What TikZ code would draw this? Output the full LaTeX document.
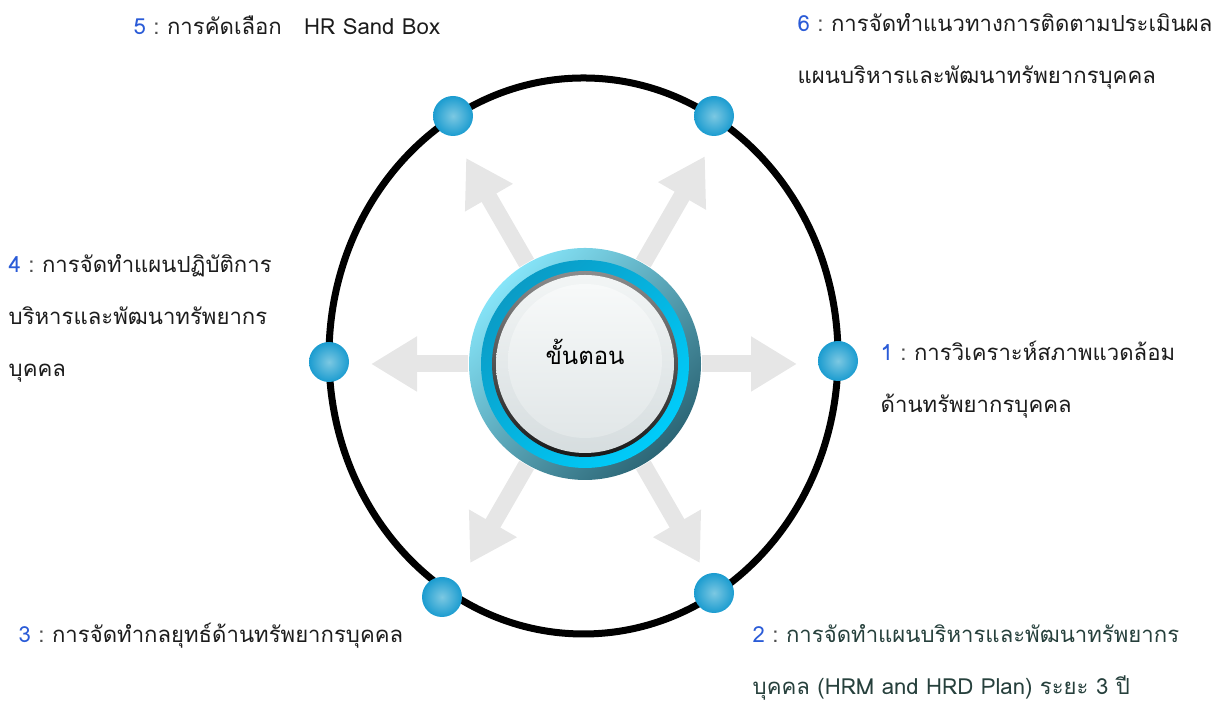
\documentclass[tikz,border=0pt]{standalone}
\usepackage{fontspec}
\usepackage{tikz}
\usetikzlibrary{arrows.meta}
\usetikzlibrary{positioning}
\newfontfamily\thaifont[Script=Thai]{Loma}
\definecolor{numblue}{HTML}{2A5BD7}
\definecolor{txtgray}{HTML}{1C1C1C}
\definecolor{txtslate}{HTML}{26403C}
\definecolor{spokegray}{HTML}{E6E6E6}
\definecolor{dotlight}{HTML}{7CC8E2}
\definecolor{dotdark}{HTML}{1B9CD0}
\definecolor{ringlight}{HTML}{86E4F8}
\definecolor{ringdark}{HTML}{2C6676}
\definecolor{bandtop}{HTML}{0A9CC6}
\definecolor{bandbot}{HTML}{00CCFA}
\definecolor{disctop}{HTML}{F2F5F5}
\definecolor{discbot}{HTML}{D6DDDF}
\newcommand\stepno[1]{{\color{numblue}#1}\ {\color{black!70}:}\ }
\tikzset{dot/.style = {circle, inner sep = 0, minimum size = 0.4cm,
                       inner color = dotlight, outer color = dotdark}}
\tikzset{ring/.style = {circle, inner sep = 0, minimum size = 2.32cm,
                        top color = ringlight, bottom color = ringdark, shading angle = 45}}
\tikzset{spoke/.style = {line width = 0.17cm, draw = spokegray,
                         -{Triangle[width = 0.52cm, length = 0.46cm]}}}
\tikzset{lbl/.style = {anchor = west, align = left, inner sep = 0, text = txtgray,
                       font = \thaifont\fontsize{6.3}{14.8}\selectfont}}

\begin{document}
\begin{tikzpicture}
    \useasboundingbox (0, 0) rectangle (12.23, 7.08);

    \draw [line width = 0.07cm] (5.835, 3.52) ellipse [x radius = 2.545, y radius = 2.78];

    \node [ring] (hub) at (5.85, 3.44) {};
    \shade [top color = bandtop, bottom color = bandbot, shading angle = 45] (hub.center) circle (1.04);
    \shade [top color = black!45, bottom color = black!90] (hub.center) circle (0.93);
    \shade [top color = disctop, bottom color = discbot] (hub.center) circle (0.89);
    \shade [top color = disctop!60!white, bottom color = discbot!60!disctop] ([yshift = 0.03cm]hub.center) circle (0.77);
    \node [font = \thaifont\fontsize{6.8}{8}\selectfont] (title) at ([yshift = 0.12cm]hub.center) {ขั้นตอน};

    \foreach \a/\r [count = \i] in {0/2.12, -60/2.3, -120/2.3, 180/2.14, 120/2.38, 60/2.4} {
      \coordinate (t\i) at ([shift = {(\a:\r)}]hub.center);
      \draw [spoke] (hub) -- (t\i);
    }

    \node [dot] (d1) at (8.38, 3.47) {};
    \node [dot] (d2) at (7.14, 1.15) {};
    \node [dot] (d3) at (4.42, 1.11) {};
    \node [dot] (d4) at (3.29, 3.46) {};
    \node [dot] (d5) at (4.53, 5.92) {};
    \node [dot] (d6) at (7.14, 5.92) {};

    \node [lbl] (l1) at (8.80, 3.28) {\stepno{1}การวิเคราะห์สภาพแวดล้อม\\ด้านทรัพยากรบุคคล};
    \node [lbl, text = txtslate] (l2) at (7.52, 0.46) {\stepno{2}การจัดทำแผนบริหารและพัฒนาทรัพยากร\\บุคคล (HRM and HRD Plan) ระยะ 3 ปี};
    \node [lbl] (l3) at (0.18, 0.72) {\stepno{3}การจัดทำกลยุทธ์ด้านทรัพยากรบุคคล};
    \node [lbl] (l4) at (0.08, 3.90) {\stepno{4}การจัดทำแผนปฏิบัติการ\\บริหารและพัฒนาทรัพยากร\\บุคคล};
    \node [lbl] (l5) at (1.33, 6.83) {\stepno{5}การคัดเลือก\ \ \ HR Sand Box};
    \node [lbl] (l6) at (7.97, 6.57) {\stepno{6}การจัดทำแนวทางการติดตามประเมินผล\\แผนบริหารและพัฒนาทรัพยากรบุคคล};
  \end{tikzpicture}
\end{document}
